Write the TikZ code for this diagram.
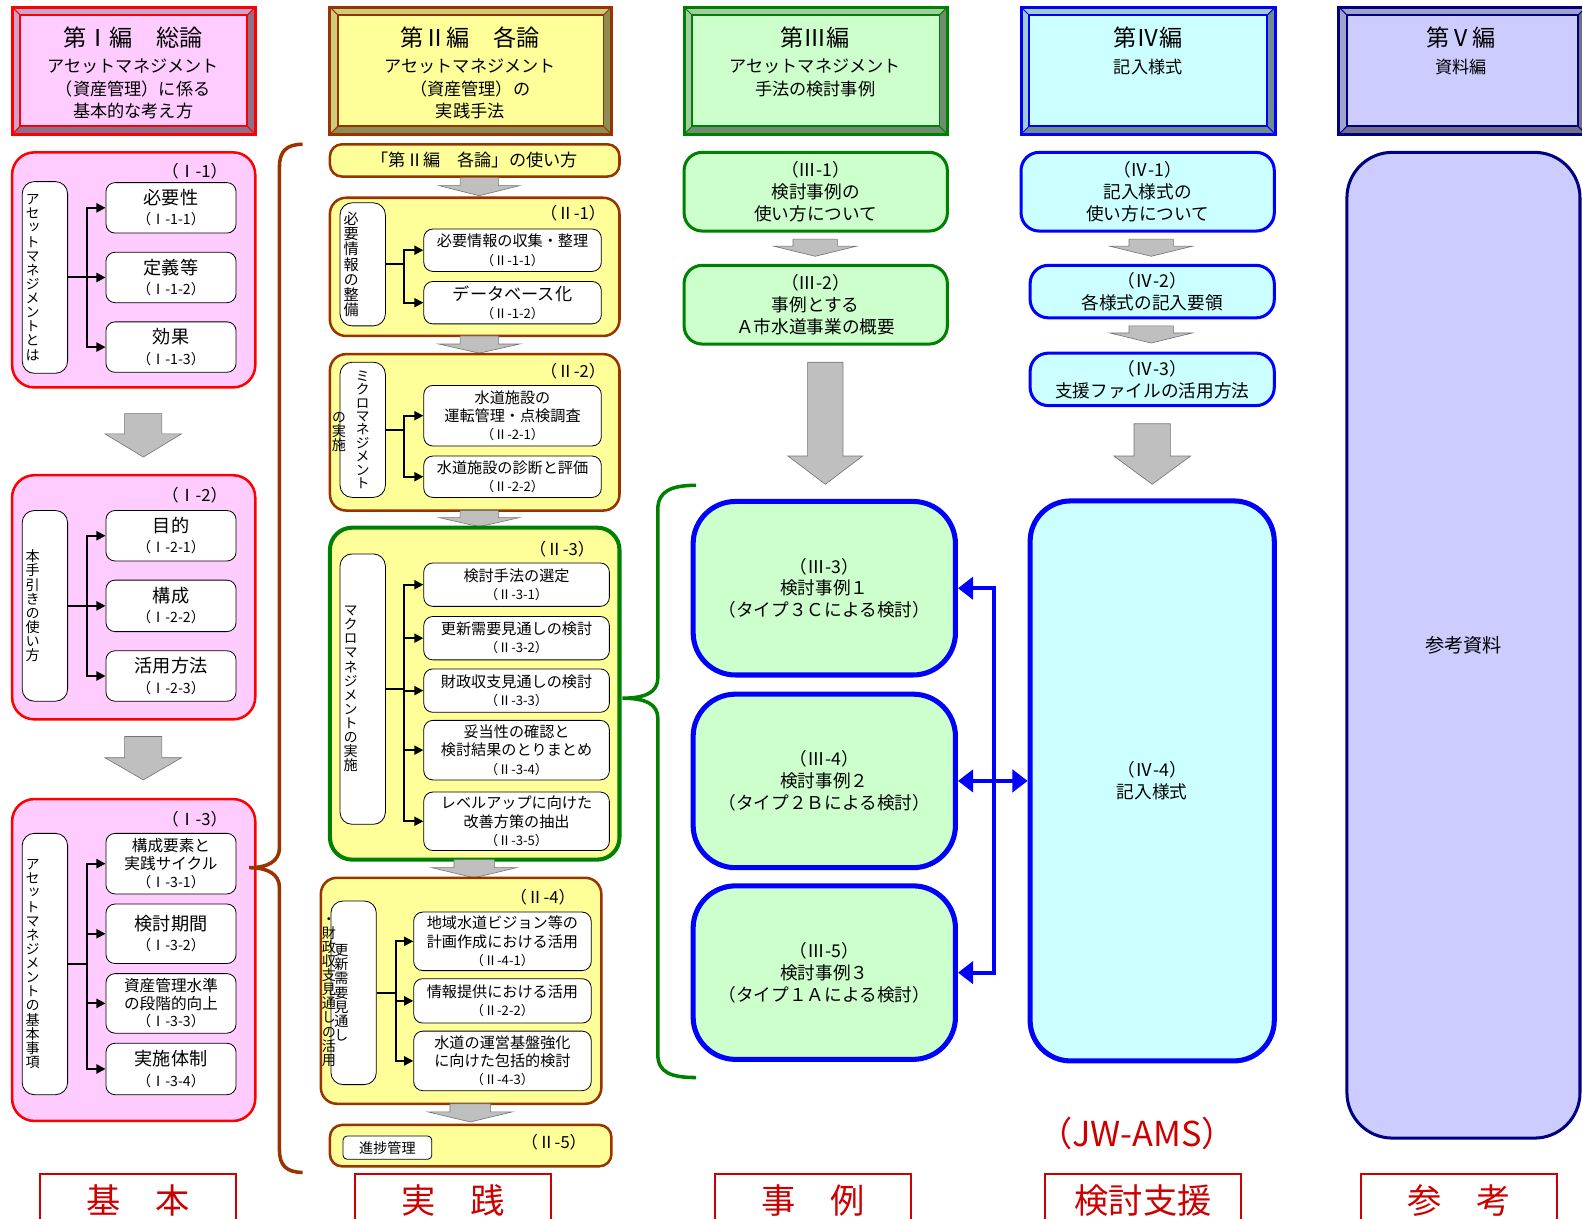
\documentclass[tikz,border=0pt]{standalone}
\usepackage{fontspec}
\setmainfont{Noto Sans CJK JP}
\newfontfamily\tatefont{Noto Sans CJK JP}[RawFeature=+vert]
\usepackage{tikz}
\usetikzlibrary{arrows.meta,positioning,shapes,calc}
\definecolor{pinkbg}{HTML}{FFCCFF}
\definecolor{yellowbg}{HTML}{FFFF99}
\definecolor{greenbg}{HTML}{CCFFCC}
\definecolor{cyanbg}{HTML}{CCFFFF}
\definecolor{lavbg}{HTML}{CCCCFF}
\definecolor{brownln}{HTML}{993300}
\definecolor{greenln}{HTML}{008000}
\definecolor{navyln}{HTML}{000080}
\definecolor{tagred}{HTML}{CC0000}
\newcommand{\fs}[2]{\fontsize{#1}{#2}\selectfont}
\newcommand{\garrow}[6]{\draw[grayarr] (#1-#4,#2) -- (#1+#4,#2) -- (#1+#4,#5) -- (#1+#6,#5) -- (#1,#3) -- (#1-#6,#5) -- (#1-#4,#5) -- cycle;}

\begin{document}
\begin{tikzpicture}[x=1pt, y=-1pt,
  secbox/.style={draw=red, line width=2.5pt, fill=pinkbg, rounded corners=22pt},
  partbox/.style={draw=brownln, line width=2.5pt, fill=yellowbg, rounded corners=16pt},
  tatebox/.style={draw, fill=white, rounded corners=12pt, line width=0.8pt, minimum width=45pt,
                  text width=38pt, inner sep=2.5pt, align=left, font=\tatefont\fs{14}{14}},
  itembox/.style={draw, fill=white, rounded corners=9pt, line width=0.8pt, align=center, inner sep=1pt},
  colI/.style={itembox, minimum width=129pt, font=\fs{18}{20}},
  colII/.style={itembox, minimum width=176pt, font=\fs{15}{18}},
  idtag/.style={font=\fs{16.5}{18}},
  bus/.style={line width=2pt, -{Triangle[length=9pt,width=9pt]}},
  grayarr/.style={fill=gray!50, draw=black!55, line width=0.6pt},
  casebox/.style={draw=greenln, line width=3pt, fill=greenbg, rounded corners=18pt, align=center,
                  font=\fs{17.5}{21.5}, minimum width=261pt, minimum height=78pt},
  formbox/.style={draw=blue, line width=3pt, fill=cyanbg, rounded corners=18pt, align=center,
                  font=\fs{17.5}{21.5}, minimum width=242pt, minimum height=52pt},
  bigcase/.style={draw=blue, line width=5pt, fill=greenbg, rounded corners=42pt, align=center,
                  font=\fs{17.5}{21.5}, minimum width=260pt, minimum height=172pt},
  bluearr/.style={draw=blue, line width=4pt, -{Triangle[length=15pt,width=22pt]}},
  tagbox/.style={draw=tagred, line width=2pt, text=tagred, font=\fs{34}{34},
                 minimum width=194pt, minimum height=52pt, anchor=north},
  hdtitle/.style={font=\fs{23}{26}},
  hdsub/.style={font=\fs{17}{22.5}, align=center, anchor=north, inner sep=0pt}
]
\useasboundingbox (0,0) rectangle (1568,1208);

\foreach \xa/\xb/\ln/\bg in {12/253/red/pinkbg, 327/606/brownln/yellowbg, 678/939/greenln/greenbg,
                             1012/1264/blue/cyanbg, 1327/1572/navyln/lavbg}{
  \fill[\bg!80!black] (\xa,7) rectangle (\xb,133);
  \fill[\bg!55!black] (\xb,7) -- (\xb,133) -- (\xa,133) -- (\xa+8,125) -- (\xb-8,125) -- (\xb-8,15) -- cycle;
  \draw[\ln, line width=1pt] (\xa,7) -- (\xa+8,15) (\xb,7) -- (\xb-8,15) (\xa,133) -- (\xa+8,125) (\xb,133) -- (\xb-8,125);
  \draw[\ln, line width=1.5pt, fill=\bg] (\xa+8,15) rectangle (\xb-8,125);
  \draw[\ln, line width=3pt] (\xa,7) rectangle (\xb,133);
}
\node[hdtitle] (h1) at (132,37) {第Ⅰ編　総論};
\node[hdsub] (h1s) at (132,58) {アセットマネジメント\\（資産管理）に係る\\基本的な考え方};
\node[hdtitle] (h2) at (466,37) {第Ⅱ編　各論};
\node[hdsub] (h2s) at (466,58) {アセットマネジメント\\（資産管理）の\\実践手法};
\node[hdtitle] (h3) at (808,37) {第Ⅲ編};
\node[hdsub] (h3s) at (808,58) {アセットマネジメント\\手法の検討事例};
\node[hdtitle] (h4) at (1138,37) {第Ⅳ編};
\node[hdsub] (h4s) at (1138,58) {記入様式};
\node[hdtitle] (h5) at (1448,37) {第Ⅴ編};
\node[hdsub] (h5s) at (1448,58) {資料編};

\node[secbox, minimum width=241pt, minimum height=233pt] (s1) at (132.5,267.5) {};
\node[idtag] (s1id) at (193,170) {（Ⅰ-1）};
\node[tatebox, minimum height=190pt] (t1) at (44.5,275) {ア\\セ\\ッ\\ト\\マ\\ネ\\ジ\\メ\\ン\\ト\\と\\は};
\node[colI, minimum height=50pt] (a11) at (169.5,206) {必要性\\\fs{14}{20}（Ⅰ-1-1）};
\node[colI, minimum height=50pt] (a12) at (169.5,275) {定義等\\\fs{14}{20}（Ⅰ-1-2）};
\node[colI, minimum height=50pt] (a13) at (169.5,344) {効果\\\fs{14}{20}（Ⅰ-1-3）};
\foreach \n in {a11,a12,a13} \draw[bus] (t1.east) -- ++(19,0) |- (\n.west);
\garrow{142}{410}{453}{18.5}{430}{38}

\node[secbox, minimum width=241pt, minimum height=242pt] (s2) at (132.5,592) {};
\node[idtag] (s2id) at (193,491) {（Ⅰ-2）};
\node[tatebox, minimum height=189pt] (t2) at (44.5,600.5) {本\\手\\引\\き\\の\\使\\い\\方};
\node[colI, minimum height=50pt] (a21) at (169.5,531) {目的\\\fs{14}{20}（Ⅰ-2-1）};
\node[colI, minimum height=51pt] (a22) at (169.5,600.5) {構成\\\fs{14}{20}（Ⅰ-2-2）};
\node[colI, minimum height=50pt] (a23) at (169.5,670) {活用方法\\\fs{14}{20}（Ⅰ-2-3）};
\foreach \n in {a21,a22,a23} \draw[bus] (t2.east) -- ++(19,0) |- (\n.west);
\garrow{142}{730}{773}{18.5}{751}{38}

\node[secbox, minimum width=241pt, minimum height=319pt] (s3) at (132.5,951.5) {};
\node[idtag] (s3id) at (193,812) {（Ⅰ-3）};
\node[tatebox, minimum height=259pt] (t3) at (44.5,955.5) {ア\\セ\\ッ\\ト\\マ\\ネ\\ジ\\メ\\ン\\ト\\の\\基\\本\\事\\項};
\node[colI, minimum height=60pt, font=\fs{15.5}{17.5}] (a31) at (169.5,856) {構成要素と\\実践サイクル\\\fs{14}{17.5}（Ⅰ-3-1）};
\node[colI, minimum height=59pt] (a32) at (169.5,925.5) {検討期間\\\fs{14}{20}（Ⅰ-3-2）};
\node[colI, minimum height=59pt, font=\fs{15.5}{17.5}] (a33) at (169.5,994.5) {資産管理水準\\の段階的向上\\\fs{14}{17.5}（Ⅰ-3-3）};
\node[colI, minimum height=51pt] (a34) at (169.5,1059.5) {実施体制\\\fs{14}{20}（Ⅰ-3-4）};
\foreach \n in {a31,a32,a33,a34} \draw[bus] (t3.east) -- ++(19,0) |- (\n.west);

\draw[brownln, line width=3.5pt] (300,143) .. controls (284,143) and (277,150) .. (277,165) -- (277,840)
  .. controls (277,854) and (265,860) .. (247,860) .. controls (265,860) and (277,866) .. (277,880)
  -- (277,1140) .. controls (277,1155) and (284,1162) .. (300,1162);

\node[partbox, minimum width=287pt, minimum height=32pt, rounded corners=12pt, font=\fs{17}{20}] (u0) at (470.5,159) {「第Ⅱ編　各論」の使い方};
\garrow{475}{176}{194}{19}{184}{40}

\node[partbox, minimum width=287pt, minimum height=137pt] (u1) at (470.5,264.5) {};
\node[idtag] (u1id) at (568,211) {（Ⅱ-1）};
\node[tatebox, minimum height=122pt, font=\tatefont\fs{15}{15}] (t4) at (359.5,262) {必\\要\\情\\報\\の\\整\\備};
\node[colII, minimum height=42pt] (b11) at (508,248) {必要情報の収集・整理\\\fs{13}{18}（Ⅱ-1-1）};
\node[colII, minimum height=42pt] (b12) at (508,300) {\fs{17}{18}データベース化\\\fs{13}{18}（Ⅱ-1-2）};
\foreach \n in {b11,b12} \draw[bus] (t4.east) -- ++(18,0) |- (\n.west);
\garrow{475}{333}{350}{19}{341}{40}

\node[partbox, minimum width=287pt, minimum height=155pt] (u2) at (470.5,428.5) {};
\node[idtag] (u2id) at (568,368) {（Ⅱ-2）};
\node[tatebox, minimum height=134pt, align=center, font=\tatefont\fs{14}{13.3}] (t5) at (359.5,426) {ミ\\ク\\ロ\\マ\\ネ\\ジ\\メ\\ン\\ト};
\node[font=\tatefont\fs{14}{14}, align=center, inner sep=0pt] (t5b) at (336,428) {の\\実\\施};
\node[colII, minimum height=60pt] (b21) at (508,412) {水道施設の\\運転管理・点検調査\\\fs{13}{18}（Ⅱ-2-1）};
\node[colII, minimum height=41pt] (b22) at (508,472.5) {水道施設の診断と評価\\\fs{13}{18}（Ⅱ-2-2）};
\foreach \n in {b21,b22} \draw[bus] (t5.east) -- ++(18,0) |- (\n.west);
\garrow{475}{506}{522}{19}{513}{40}

\node[partbox, draw=greenln, line width=4pt, rounded corners=22pt, minimum width=287pt, minimum height=329pt] (u3) at (470.5,687.5) {};
\node[idtag] (u3id) at (557,544) {（Ⅱ-3）};
\node[tatebox, minimum height=268pt] (t6) at (359.5,683) {マ\\ク\\ロ\\マ\\ネ\\ジ\\メ\\ン\\ト\\の\\実\\施};
\node[colII, minimum width=184pt, minimum height=43pt] (b31) at (512,579.5) {検討手法の選定\\\fs{13}{18}（Ⅱ-3-1）};
\node[colII, minimum width=184pt, minimum height=43pt] (b32) at (512,632.5) {更新需要見通しの検討\\\fs{13}{18}（Ⅱ-3-2）};
\node[colII, minimum width=184pt, minimum height=43pt] (b33) at (512,684.5) {財政収支見通しの検討\\\fs{13}{18}（Ⅱ-3-3）};
\node[colII, minimum width=184pt, minimum height=59pt] (b34) at (512,743.5) {妥当性の確認と\\検討結果のとりまとめ\\\fs{13}{18}（Ⅱ-3-4）};
\node[colII, minimum width=184pt, minimum height=58pt] (b35) at (512,814) {レベルアップに向けた\\改善方策の抽出\\\fs{13}{18}（Ⅱ-3-5）};
\foreach \n in {b31,b32,b33,b34,b35} \draw[bus] (t6.east) -- ++(18,0) |- (\n.west);
\garrow{470}{852}{870}{20}{860}{42}

\node[partbox, minimum width=278pt, minimum height=224pt] (u4) at (457,982) {};
\node[idtag] (u4id) at (538,889) {（Ⅱ-4）};
\node[tatebox, minimum height=182pt] (t7) at (350.5,984) {更\\新\\需\\要\\見\\通\\し};
\node[font=\tatefont\fs{14}{14}, align=center, inner sep=0pt] (t7b) at (326,983) {・\\財\\政\\収\\支\\見\\通\\し\\の\\活\\用};
\node[colII, minimum height=58pt] (b41) at (498,933) {地域水道ビジョン等の\\計画作成における活用\\\fs{13}{18}（Ⅱ-4-1）};
\node[colII, minimum height=44pt] (b42) at (498,992) {情報提供における活用\\\fs{13}{18}（Ⅱ-2-2）};
\node[colII, minimum height=59pt] (b43) at (498,1051.5) {水道の運営基盤強化\\に向けた包括的検討\\\fs{13}{18}（Ⅱ-4-3）};
\foreach \n in {b41,b42,b43} \draw[bus] (t7.east) -- ++(19,0) |- (\n.west);
\garrow{466}{1094}{1112}{20}{1102}{42}

\node[partbox, minimum width=279pt, minimum height=41pt, rounded corners=12pt] (u5) at (466.5,1135.5) {};
\node[itembox, minimum width=88pt, minimum height=23pt, rounded corners=4pt, font=\fs{14}{16}] (b5) at (384,1137.5) {進捗管理};
\node[idtag] (u5id) at (549,1132) {（Ⅱ-5）};

\draw[greenln, line width=3.5pt] (690,481) .. controls (665,481) and (652,487) .. (652,505) -- (652,672)
  .. controls (652,686) and (640,692) .. (617,692) .. controls (640,692) and (652,698) .. (652,712)
  -- (652,1045) .. controls (652,1063) and (665,1068) .. (690,1068);

\node[casebox] (c1) at (808.5,190) {（Ⅲ-1）\\検討事例の\\使い方について};
\garrow{808}{237}{254}{22}{244}{41}
\node[casebox] (c2) at (808.5,302) {（Ⅲ-2）\\事例とする\\Ａ市水道事業の概要};
\garrow{818}{359}{480}{17.5}{452}{37}
\node[bigcase] (c3) at (817,583) {（Ⅲ-3）\\検討事例１\\（タイプ３Ｃによる検討）};
\node[bigcase] (c4) at (817,774) {（Ⅲ-4）\\検討事例２\\（タイプ２Ｂによる検討）};
\node[bigcase] (c5) at (817,964) {（Ⅲ-5）\\検討事例３\\（タイプ１Ａによる検討）};

\node[formbox, minimum width=251pt, minimum height=78pt] (d1) at (1137.5,190) {（Ⅳ-1）\\記入様式の\\使い方について};
\garrow{1141}{237}{254}{22}{244}{41}
\node[formbox] (d2) at (1142,289) {（Ⅳ-2）\\各様式の記入要領};
\garrow{1141}{323}{340}{22}{330}{41}
\node[formbox] (d3) at (1142,376) {（Ⅳ-3）\\支援ファイルの活用方法};
\garrow{1142}{420}{480}{18}{452}{38}
\node[formbox, line width=5pt, rounded corners=40pt, minimum height=555pt] (d4) at (1142,774) {（Ⅳ-4）\\記入様式};

\coordinate (jn) at (985,774);
\draw[bluearr] (jn) |- (c3.east);
\draw[bluearr] (jn) |- (c5.east);
\draw[bluearr, {Triangle[length=15pt,width=22pt]}-{Triangle[length=15pt,width=22pt]}] (c4.east) -- (d4.west);

\node[draw=navyln, line width=3pt, fill=lavbg, rounded corners=45pt, minimum width=231pt, minimum height=977pt, font=\fs{19}{22}] (e1) at (1450.5,639.5) {参考資料};

\node[text=tagred, font=\fs{34}{34}] (jw) at (1127,1123) {（JW-AMS）};
\node[tagbox] (k1) at (137,1163) {基　本};
\node[tagbox] (k2) at (449,1163) {実　践};
\node[tagbox] (k3) at (806,1163) {事　例};
\node[tagbox] (k4) at (1133,1163) {検討支援};
\node[tagbox] (k5) at (1446,1163) {参　考};
\end{tikzpicture}
\end{document}
